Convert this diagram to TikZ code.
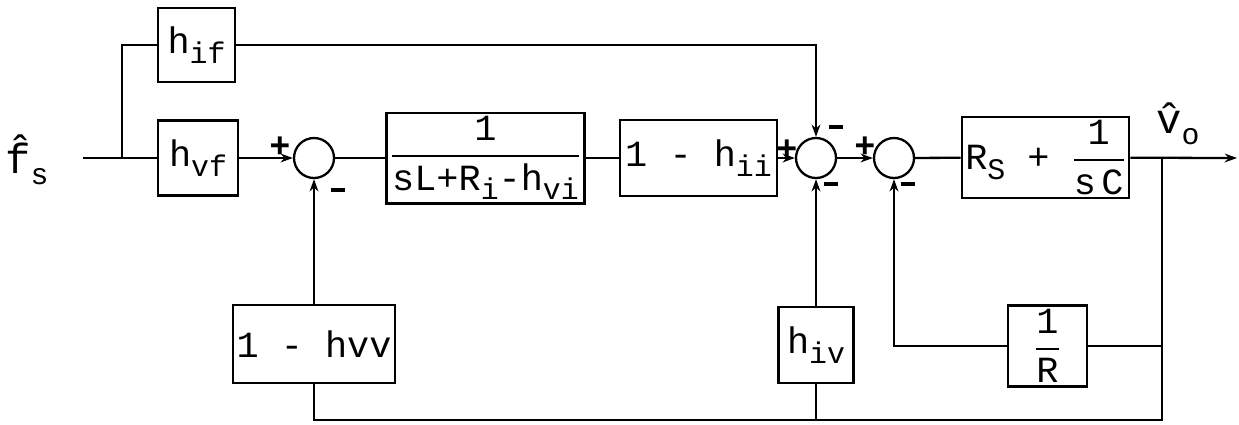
\documentclass[tikz,border=0pt]{standalone}
\usepackage{amsmath}
\usepackage{fontspec}
\setmonofont{Liberation Mono}
\usetikzlibrary{arrows.meta}
\newcommand{\sub}[1]{\raisebox{-0.5ex}{\fontsize{17}{17}\selectfont #1}}
\newcommand{\bfrac}[2]{$\genfrac{}{}{1.2pt}{0}{\text{\ttfamily #1}}{\text{\ttfamily #2}}$}
\newcommand{\mns}{\rule{8pt}{2.4pt}}
\begin{document}
\begin{tikzpicture}[x=0.02cm, y=-0.02cm, line width=1.3pt,
  blk/.style={draw, rectangle, inner sep=2pt, font=\ttfamily\fontsize{21}{24}\selectfont},
  sumc/.style={draw, circle, minimum size=0.8cm, inner sep=0pt},
  sgn/.style={inner sep=0pt, font=\ttfamily\bfseries\fontsize{20}{20}\selectfont},
  >={Stealth[length=7pt,width=5pt]}]
\useasboundingbox (0,0) rectangle (1239,424);
% forward path
\node[font=\ttfamily\fontsize{24}{24}\selectfont] (fs) at (27,160) {\^{f}\sub{s}};
\node[blk, minimum width=1.54cm, minimum height=1.48cm] (hif) at (196.5,45) {h\sub{if}};
\node[blk, minimum width=1.6cm, minimum height=1.5cm] (hvf) at (198,158) {h\sub{vf}};
\node[sumc] (s1) at (314,158) {};
\node[blk, minimum width=3.9cm, minimum height=1.52cm] (gl) at (485.5,158) {\bfrac{1}{sL+R\sub{i}-h\sub{vi}}};
\node[blk, minimum width=3.14cm, minimum height=1.52cm] (gii) at (698.5,158) {1 - h\sub{ii}};
\node[sumc] (s2) at (816,158) {};
\node[sumc] (s3) at (894,158) {};
\node[blk, minimum width=3.1cm, minimum height=1.58cm] (zs) at (1045.5,157.5) {R\sub{S} + \bfrac{1}{s\hspace{0.15em}C}};
\node[font=\ttfamily\fontsize{24}{24}\selectfont] (vo) at (1178,124) {\^{v}\sub{o}};
% feedback blocks
\node[blk, minimum width=3.1cm, minimum height=1.56cm] (hvv) at (314,344) {1 - hvv};
\node[blk, minimum width=1.5cm, minimum height=1.52cm] (hiv) at (816,345) {h\sub{iv}};
\node[blk, minimum width=1.58cm, minimum height=1.56cm] (rinv) at (1047.5,346) {\bfrac{1}{R}};
% signs
\node[sgn] (p1) at (280,147) {+};
\node[sgn] (m1) at (338,190) {\mns};
\node[sgn] (p2) at (787,150) {+};
\node[sgn] (m2) at (836,127) {\mns};
\node[sgn] (m3) at (831,184) {\mns};
\node[sgn] (p3) at (865,147) {+};
\node[sgn] (m4) at (908,184) {\mns};
% points
\coordinate (in) at (83,158);
\coordinate (br) at (122,158);
\coordinate (ob) at (1162,158);
\coordinate (out) at (1237,158);
\coordinate (bot) at (1162,420);
% connections
\draw (in) -- (hvf);
\draw[line width=0.7pt] (br) |- (hif);
\draw[->] (hvf) -- (s1);
\draw (s1) -- (gl);
\draw (gl) -- (gii);
\draw[->] (gii) -- (s2);
\draw[->] (hif) -| (s2);
\draw[->] (s2) -- (s3);
\draw (s3) -- (zs);
\draw[->] (zs) -- (out);
\draw (ob) -- (bot) -- (hvv |- bot) -- (hvv);
\draw (hiv) -- (hiv |- bot);
\draw[->] (hvv) -- (s1);
\draw[->] (hiv) -- (s2);
\draw (rinv) -- (rinv -| ob);
\draw[->] (rinv) -| (s3);
\end{tikzpicture}
\end{document}
